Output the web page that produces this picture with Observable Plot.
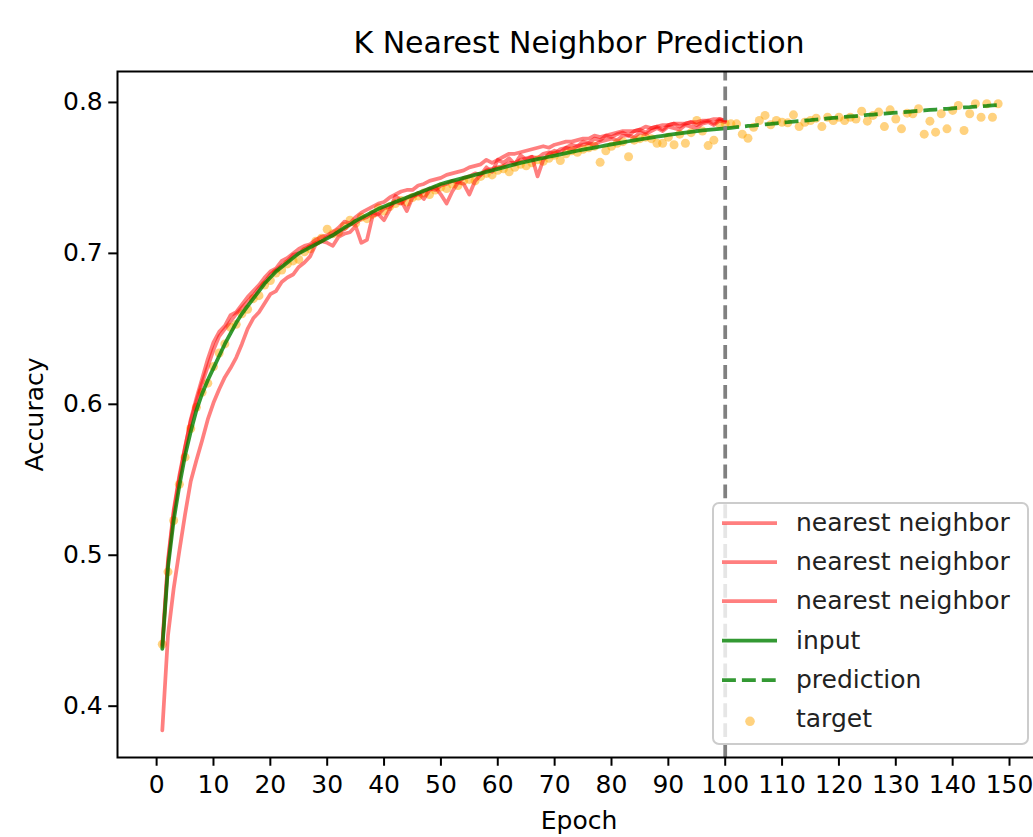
<!DOCTYPE html>
<html><head><meta charset="utf-8">
<script src="https://cdn.jsdelivr.net/npm/d3@7"></script>
<script src="https://cdn.jsdelivr.net/npm/@observablehq/plot@0.6"></script>
<style>
html,body{margin:0;padding:0;overflow:hidden;background:#fff;}
#wrap{position:relative;width:1033px;height:837px;overflow:hidden;}
#wrap svg{position:absolute;left:0;top:0;max-width:none !important;}
</style></head><body><div id="wrap"></div>
<script>
// ---- data ----
const inputAcc = [
0.438,0.492,0.523,0.546,0.566,0.582,0.596,0.607,0.616,0.624,
0.632,0.640,0.647,0.654,0.660,0.665,0.670,0.675,0.680,0.684,
0.688,0.691,0.694,0.697,0.700,0.702,0.704,0.706,0.708,0.710,
0.712,0.7145,0.717,0.719,0.7215,0.7235,0.7255,0.7275,0.7295,0.731,
0.7325,0.734,0.7355,0.737,0.7385,0.740,0.7415,0.743,0.7445,0.746,
0.747,0.748,0.749,0.750,0.751,0.752,0.753,0.754,0.755,0.756,
0.757,0.758,0.759,0.760,0.7608,0.7616,0.7624,0.7632,0.764,0.7648,
0.7656,0.7664,0.7672,0.768,0.7687,0.7694,0.7701,0.7708,0.7715,0.7722,
0.7729,0.7736,0.7743,0.7749,0.7755,0.7761,0.7767,0.7773,0.7779,0.7785,
0.779,0.7795,0.780,0.7805,0.781,0.7815,0.7819,0.7822,0.7825,0.7828];

const neighbor1 = [
0.440,0.495,0.528,0.551,0.571,0.590,0.604,0.617,0.630,0.641,
0.648,0.652,0.659,0.661,0.666,0.671,0.675,0.679,0.684,0.688,
0.690,0.695,0.697,0.700,0.703,0.705,0.706,0.709,0.711,0.712,
0.714,0.717,0.721,0.720,0.724,0.727,0.729,0.731,0.733,0.734,
0.737,0.739,0.741,0.742,0.742,0.745,0.746,0.748,0.749,0.750,
0.752,0.753,0.754,0.755,0.757,0.758,0.759,0.762,0.760,0.762,
0.764,0.766,0.766,0.767,0.768,0.769,0.770,0.771,0.770,0.772,
0.773,0.774,0.774,0.775,0.776,0.776,0.778,0.777,0.778,0.779,
0.780,0.781,0.781,0.781,0.782,0.784,0.783,0.784,0.785,0.785,
0.786,0.786,0.786,0.787,0.787,0.788,0.788,0.789,0.789,0.788];

const neighbor2 = [
0.441,0.497,0.530,0.553,0.572,0.589,0.602,0.614,0.625,0.636,
0.645,0.650,0.655,0.660,0.664,0.668,0.672,0.677,0.681,0.686,
0.689,0.692,0.695,0.699,0.700,0.703,0.705,0.707,0.708,0.711,
0.712,0.714,0.716,0.719,0.720,0.723,0.724,0.727,0.726,0.730,
0.731,0.734,0.733,0.737,0.738,0.739,0.741,0.743,0.742,0.745,
0.746,0.748,0.747,0.750,0.751,0.753,0.752,0.755,0.756,0.757,
0.758,0.760,0.760,0.762,0.763,0.764,0.763,0.766,0.767,0.766,
0.769,0.770,0.769,0.771,0.772,0.773,0.772,0.774,0.775,0.776,
0.775,0.778,0.778,0.777,0.780,0.779,0.781,0.783,0.781,0.784,
0.783,0.782,0.785,0.784,0.783,0.786,0.787,0.785,0.788,0.787];

const neighbor3 = [
0.384,0.447,0.478,0.503,0.527,0.549,0.563,0.576,0.590,0.601,
0.610,0.618,0.624,0.631,0.640,0.650,0.657,0.661,0.667,0.673,
0.675,0.681,0.684,0.686,0.691,0.694,0.698,0.706,0.708,0.707,
0.705,0.711,0.713,0.714,0.718,0.707,0.709,0.725,0.726,0.722,
0.729,0.738,0.735,0.728,0.737,0.740,0.736,0.742,0.744,0.739,
0.733,0.741,0.747,0.746,0.739,0.748,0.752,0.757,0.754,0.762,
0.760,0.763,0.759,0.765,0.762,0.764,0.751,0.762,0.766,0.768,
0.767,0.770,0.772,0.771,0.774,0.773,0.776,0.775,0.778,0.777,
0.779,0.780,0.778,0.781,0.782,0.780,0.783,0.784,0.782,0.785,
0.786,0.784,0.786,0.787,0.785,0.787,0.788,0.786,0.789,0.788];

// prediction covers epochs 100..148
const predictionAcc = [
0.7828,0.7832,0.7836,0.7840,0.7844,0.7847,0.7851,0.7855,0.7858,0.7862,
0.7866,0.7869,0.7873,0.7876,0.7880,0.7883,0.7887,0.7890,0.7894,0.7897,
0.7900,0.7904,0.7907,0.7910,0.7913,0.7917,0.7920,0.7923,0.7926,0.7929,
0.7932,0.7935,0.7938,0.7941,0.7944,0.7947,0.7950,0.7953,0.7956,0.7958,
0.7961,0.7964,0.7967,0.7969,0.7972,0.7975,0.7977,0.7980,0.7982];

// target covers epochs 1..148
const targetAcc = [
0.441,0.489,0.523,0.547,0.565,0.584,0.598,0.608,0.614,0.625,
0.634,0.640,0.651,0.653,0.660,0.663,0.670,0.672,0.679,0.682,
0.687,0.689,0.693,0.695,0.696,0.701,0.703,0.708,0.710,0.716,
0.713,0.714,0.718,0.722,0.720,0.724,0.723,0.726,0.730,0.728,
0.731,0.733,0.735,0.734,0.737,0.738,0.740,0.739,0.742,0.744,
0.743,0.746,0.745,0.748,0.749,0.748,0.751,0.753,0.752,0.755,
0.756,0.754,0.757,0.759,0.758,0.760,0.762,0.761,0.763,0.765,
0.7615,0.766,0.768,0.767,0.769,0.770,0.771,0.7603,0.768,0.771,
0.773,0.774,0.764,0.775,0.776,0.777,0.776,0.773,0.773,0.777,
0.772,0.779,0.773,0.780,0.788,0.781,0.7714,0.775,0.7858,0.786,
0.7858,0.7858,0.779,0.7763,0.7836,0.788,0.7914,0.7852,0.788,0.7869,
0.7865,0.7918,0.784,0.7869,0.788,0.7896,0.784,0.7902,0.788,0.7902,
0.788,0.7902,0.789,0.7942,0.7876,0.7914,0.7936,0.784,0.7951,0.789,
0.7825,0.7929,0.7925,0.7958,0.779,0.7876,0.7803,0.7925,0.7825,0.7947,
0.798,0.7814,0.7925,0.7991,0.7902,0.7991,0.7902,0.7991];

const xTicks = [0,10,20,30,40,50,60,70,80,90,100,110,120,130,140,150];
const yTicks = [0.4,0.5,0.6,0.7,0.8];
const splitEpoch = 100;
const legendLabels = ["nearest neighbor","nearest neighbor","nearest neighbor","input","prediction","target"];
const titleText = "K Nearest Neighbor Prediction";
const xLabel = "Epoch";
const yLabel = "Accuracy";

// ---- tables ----
const inputData = inputAcc.map((v,i)=>({epoch:i+1, acc:v}));
const neighborData = [neighbor1,neighbor2,neighbor3].map(a=>a.map((v,i)=>({epoch:i+1, acc:v})));
const predData = predictionAcc.map((v,i)=>({epoch:splitEpoch+i, acc:v}));
const targetData = targetAcc.map((v,i)=>({epoch:i+1, acc:v}));

const xDomain = [-6.88, 155.45];
const yDomain = [0.366, 0.8205];
const LW = 3.75, DASH = "13.9,6";
const GREEN = "#008000";

const chart = Plot.plot({
  width: 1041, height: 837,
  marginLeft: 117, marginRight: 1, marginTop: 71, marginBottom: 80,
  x: {domain: xDomain},
  y: {domain: yDomain},
  style: {fontFamily: "DejaVu Sans", fontSize: "25px", background: "white", color: "black", maxWidth: "none", height: "837px"},
  marks: [
    Plot.dot(targetData, {x:"epoch", y:"acc", r:4.5, fill:"orange", fillOpacity:0.5, stroke:"none"}),
    ...neighborData.map(d => Plot.line(d, {x:"epoch", y:"acc", stroke:"red", strokeOpacity:0.5, strokeWidth:LW})),
    Plot.line(inputData, {x:"epoch", y:"acc", stroke:GREEN, strokeOpacity:0.8, strokeWidth:LW}),
    Plot.line(predData, {x:"epoch", y:"acc", stroke:GREEN, strokeOpacity:0.8, strokeWidth:LW, strokeDasharray:DASH, strokeLinecap:"butt"}),
    Plot.ruleX([splitEpoch], {y1: () => yDomain[0], y2: () => yDomain[1], stroke:"gray", strokeWidth:LW, strokeDasharray:DASH}),
    Plot.frame({stroke:"black", strokeWidth:2}),
    Plot.axisX({ticks:xTicks, tickSize:8.75, tickPadding:9, fontSize:25, strokeWidth:2, label:null}),
    Plot.axisY({ticks:yTicks, tickSize:8.75, tickPadding:6, fontSize:25, strokeWidth:2, label:null, tickFormat:d=>d.toFixed(1)}),
    Plot.text([titleText], {text:d=>d, frameAnchor:"top", textAnchor:"middle", lineAnchor:"middle", dy:-28, fontSize:30}),
    Plot.text([yLabel], {text:d=>d, frameAnchor:"left", textAnchor:"middle", lineAnchor:"middle", rotate:-90, dx:-83, fontSize:25}),
    Plot.text([xLabel], {text:d=>d, frameAnchor:"bottom", textAnchor:"middle", lineAnchor:"middle", dy:63, fontSize:25})
  ]
});
document.getElementById("wrap").appendChild(chart);

// ---- legend overlay ----
const lg = d3.select("#wrap").append("svg")
  .attr("width",1033).attr("height",837)
  .style("pointer-events","none")
  .attr("font-family","DejaVu Sans").attr("font-size",25);
lg.append("rect").attr("x",713).attr("y",503).attr("width",315).attr("height",241)
  .attr("rx",6).attr("fill","white").attr("fill-opacity",0.8)
  .attr("stroke","#cccccc").attr("stroke-width",2);
const rowY = [523, 562, 601, 640.5, 680, 719.3];
legendLabels.forEach((lab,i)=>{
  const y = rowY[i];
  if (i < 3) {
    lg.append("line").attr("x1",722).attr("x2",777).attr("y1",y).attr("y2",y)
      .attr("stroke","red").attr("stroke-opacity",0.5).attr("stroke-width",LW);
  } else if (i === 3) {
    lg.append("line").attr("x1",722).attr("x2",777).attr("y1",y).attr("y2",y)
      .attr("stroke",GREEN).attr("stroke-opacity",0.8).attr("stroke-width",LW);
  } else if (i === 4) {
    lg.append("line").attr("x1",722).attr("x2",777).attr("y1",y).attr("y2",y)
      .attr("stroke",GREEN).attr("stroke-opacity",0.8).attr("stroke-width",LW).attr("stroke-dasharray",DASH);
  } else {
    lg.append("circle").attr("cx",750).attr("cy",y+2).attr("r",4.8)
      .attr("fill","orange").attr("fill-opacity",0.5);
  }
  lg.append("text").attr("x",796).attr("y",y+8).attr("fill","#222").text(lab);
});
</script></body></html>
